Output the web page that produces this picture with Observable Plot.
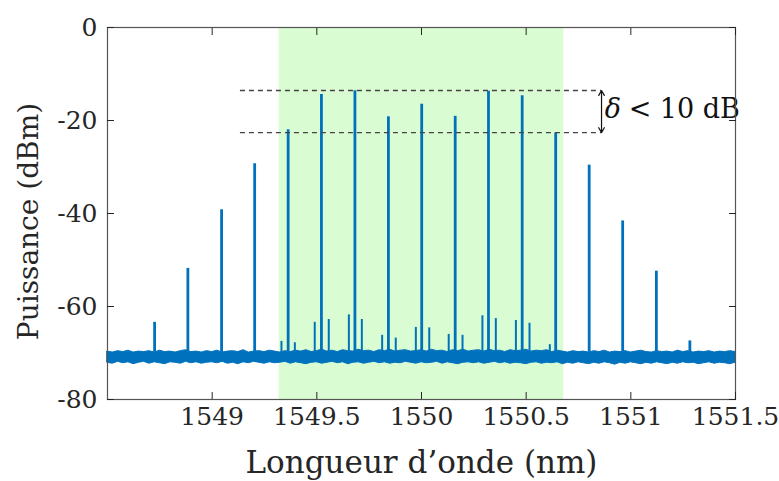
<!DOCTYPE html>
<html>
<head>
<meta charset="utf-8">
<script src="https://cdn.jsdelivr.net/npm/d3@7"></script>
<script src="https://cdn.jsdelivr.net/npm/@observablehq/plot@0.6"></script>
<style>
  html, body { margin: 0; padding: 0; background: #fff; }
</style>
</head>
<body>
<div id="chart"></div>
<script>
// ---- data ----
const xTicks = [1549, 1549.5, 1550, 1550.5, 1551, 1551.5];
const yTicks = [0, -20, -40, -60, -80];

// main comb lines (nm, dBm)
const peakNm  = [1548.725, 1548.884, 1549.045, 1549.203, 1549.363, 1549.522, 1549.682, 1549.842, 1550.001, 1550.161, 1550.320, 1550.481, 1550.641, 1550.801, 1550.961, 1551.122, 1551.282];
const peakDbm = [-63.4, -51.8, -39.2, -29.3, -22.0, -14.4, -13.6, -19.2, -16.5, -19.1, -13.7, -14.7, -22.7, -29.6, -41.6, -52.4, -67.4];

// small side lines inside the band
const sideNm  = [1549.331, 1549.395, 1549.490, 1549.557, 1549.653, 1549.715, 1549.812, 1549.877, 1549.973, 1550.037, 1550.130, 1550.196, 1550.291, 1550.355, 1550.451, 1550.516, 1550.613];
const sideDbm = [-67.5, -67.8, -63.4, -62.8, -61.8, -62.8, -66.2, -66.8, -64.5, -64.6, -66.0, -66.2, -62.0, -62.6, -63.0, -63.6, -68.2];

// noise floor envelope, sampled every 0.025 nm from 1548.5 to 1551.5
const floorHigh = [-69.7,-69.9,-69.6,-69.8,-69.5,-69.9,-69.7,-69.8,-69.6,-69.9,
                   -69.5,-69.8,-69.7,-69.9,-69.6,-69.4,-69.8,-69.7,-69.9,-69.6,
                   -69.8,-69.5,-69.9,-69.7,-69.6,-69.8,-69.4,-69.9,-69.7,-69.6,
                   -69.8,-69.5,-69.7,-69.9,-69.6,-69.8,-69.5,-69.7,-69.4,-69.8,
                   -69.6,-69.3,-69.7,-69.5,-69.8,-69.4,-69.6,-69.7,-69.3,-69.6,
                   -69.5,-69.8,-69.4,-69.6,-69.3,-69.7,-69.5,-69.4,-69.7,-69.6,
                   -69.4,-69.7,-69.3,-69.6,-69.5,-69.8,-69.4,-69.6,-69.3,-69.7,
                   -69.5,-69.4,-69.7,-69.3,-69.6,-69.5,-69.8,-69.4,-69.6,-69.5,
                   -69.3,-69.7,-69.5,-69.6,-69.4,-69.8,-69.5,-69.7,-69.9,-69.6,
                   -69.8,-69.7,-69.9,-69.6,-69.8,-69.5,-69.9,-69.7,-69.8,-69.6,
                   -69.9,-69.7,-69.5,-69.8,-69.9,-69.6,-69.8,-69.7,-69.9,-69.5,
                   -69.8,-69.6,-69.9,-69.7,-69.8,-69.6,-69.9,-69.7,-69.8,-69.6,
                   -69.8];
const floorLow  = [-72.1,-72.3,-71.9,-72.2,-72.0,-72.4,-72.1,-71.9,-72.3,-72.0,
                   -72.2,-72.4,-72.0,-72.1,-72.3,-71.9,-72.2,-72.0,-72.3,-72.1,
                   -72.0,-72.2,-71.9,-72.3,-72.1,-72.4,-72.0,-72.2,-71.9,-72.1,
                   -72.3,-72.0,-72.2,-72.1,-71.9,-72.3,-72.0,-72.2,-72.4,-72.1,
                   -72.0,-72.3,-72.1,-71.9,-72.2,-72.0,-72.4,-72.1,-72.0,-72.3,
                   -72.1,-71.9,-72.2,-72.0,-72.3,-72.1,-72.2,-71.9,-72.1,-72.3,
                   -72.0,-72.2,-72.1,-71.9,-72.3,-72.0,-72.2,-72.4,-72.1,-72.0,
                   -72.2,-72.0,-72.3,-72.1,-71.9,-72.2,-72.0,-72.3,-72.1,-72.2,
                   -72.4,-72.1,-72.0,-72.3,-72.1,-72.2,-72.0,-72.4,-72.1,-72.3,
                   -72.0,-72.2,-72.4,-72.1,-72.3,-72.0,-72.2,-72.5,-72.1,-72.3,
                   -72.0,-72.2,-72.4,-72.1,-72.3,-72.0,-72.2,-72.4,-72.1,-72.3,
                   -72.0,-72.2,-72.1,-72.4,-72.2,-72.0,-72.3,-72.1,-72.2,-72.4,
                   -72.1];
const floorNm = floorHigh.map((_, i) => 1548.5 + i * 0.025);
const floorBase = -71;

// shaded band and delta annotation
const bandNm = [1549.32, 1550.68];
const deltaLevels = [-13.55, -22.6];
const deltaSpanNm = [1549.135, 1550.86];
const deltaLabel = ["δ", "< 10 dB"];

// ---- build ----
const blue = "#0072BD";
const ink = "#262626";
const serif = "'DejaVu Serif', serif";
const floorRows = floorNm.map((x, i) => ({x, lo: floorLow[i], hi: floorHigh[i]}));
const peaks = peakNm.map((x, i) => ({x, y: peakDbm[i]}));
const sides = sideNm.map((x, i) => ({x, y: sideDbm[i]}));
const midDelta = (deltaLevels[0] + deltaLevels[1]) / 2;

const chart = Plot.plot({
  width: 779,
  height: 481,
  marginLeft: 107,
  marginRight: 44,
  marginTop: 27,
  marginBottom: 82,
  style: {fontFamily: serif, fontSize: "25px", color: ink, background: "#fff", overflow: "visible"},
  x: {domain: [1548.5, 1551.5]},
  y: {domain: [-80, 0]},
  marks: [
    Plot.rect([bandNm], {x1: d => d[0], x2: d => d[1], y1: -80, y2: 0, fill: "#dafcd2"}),
    Plot.areaY(floorRows, {x: "x", y1: "lo", y2: "hi", fill: blue, stroke: blue, strokeWidth: 1}),
    Plot.ruleX(sides, {x: "x", y1: floorBase, y2: "y", stroke: blue, strokeWidth: 2}),
    Plot.ruleX(peaks, {x: "x", y1: floorBase, y2: "y", stroke: blue, strokeWidth: 2.8}),
    Plot.ruleY(deltaLevels, {y: d => d, x1: deltaSpanNm[0], x2: deltaSpanNm[1], stroke: "#444", strokeWidth: 1.3, strokeDasharray: "5,4"}),
    Plot.arrow([deltaLevels[0], deltaLevels[1]], {x1: deltaSpanNm[1], x2: deltaSpanNm[1], y1: midDelta, y2: d => d, stroke: "#111", strokeWidth: 1.2, headLength: 7}),
    Plot.text([deltaLabel[0]], {x: 1550.875, y: -17.6, text: d => d, textAnchor: "start", fontStyle: "italic", fontFamily: serif, fontSize: 27, fill: "#111"}),
    Plot.text([deltaLabel[1]], {x: 1550.875, y: -17.6, text: d => d, textAnchor: "start", dx: 24, fontFamily: serif, fontSize: 27, fill: "#111"}),
    Plot.frame({stroke: "#555", strokeWidth: 1.2}),
    Plot.axisX(xTicks, {anchor: "bottom", tickSize: -7, tickPadding: 15, tickFormat: d => String(d), label: null, stroke: ink, fill: ink, fontFamily: serif, fontSize: 25}),
    Plot.axisX(xTicks, {anchor: "top", tickSize: -7, fill: "none", label: null, stroke: ink}),
    Plot.axisY(yTicks, {anchor: "left", tickSize: -7, tickPadding: 17, tickFormat: d => String(d), label: null, stroke: ink, fill: ink, fontFamily: serif, fontSize: 25}),
    Plot.axisY(yTicks, {anchor: "right", tickSize: -7, fill: "none", label: null, stroke: ink}),
    Plot.text(["Longueur d’onde (nm)"], {frameAnchor: "bottom", dy: 64, fontSize: 31, fontFamily: serif, fill: ink, lineAnchor: "middle", textAnchor: "middle"}),
    Plot.text(["Puissance (dBm)"], {frameAnchor: "left", dx: -78, dy: 8, rotate: -90, textAnchor: "middle", lineAnchor: "middle", fontSize: 28, fontFamily: serif, fill: ink})
  ]
});
document.getElementById("chart").appendChild(chart);
</script>
</body>
</html>
